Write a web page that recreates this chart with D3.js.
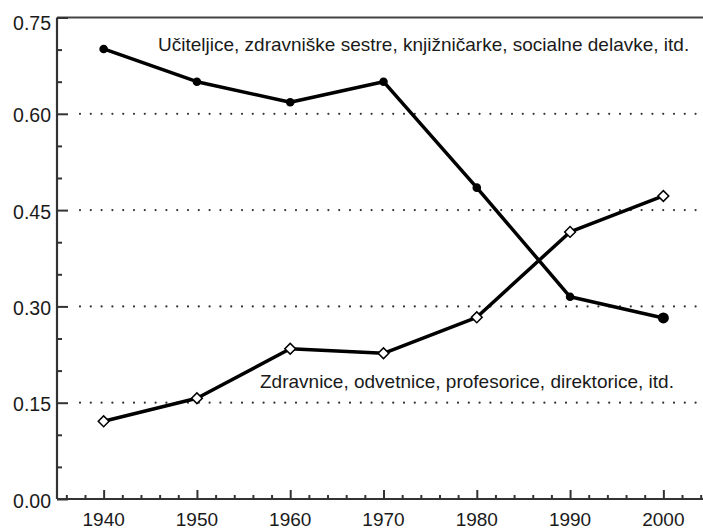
<!DOCTYPE html>
<html>
<head>
<meta charset="utf-8">
<script src="https://cdn.jsdelivr.net/npm/d3@7"></script>
<style>
    body { margin: 0; background: #fff; }
    svg { display: block; font-family: "Liberation Sans", Arial, sans-serif; }
</style>
</head>
<body>
<div id="chart"></div>
<script>
const YEARS = [1940, 1950, 1960, 1970, 1980, 1990, 2000];
const TRADITIONAL = [0.701, 0.650, 0.618, 0.650, 0.485, 0.315, 0.282];
const PROFESSIONAL = [0.121, 0.157, 0.234, 0.227, 0.283, 0.416, 0.472];
const Y_TICKS = [0, 0.15, 0.30, 0.45, 0.60, 0.75];
const GRID_VALUES = [0.15, 0.30, 0.45, 0.60];
const LABEL_TRADITIONAL = "Učiteljice, zdravniške sestre, knjižničarke, socialne delavke, itd.";
const LABEL_PROFESSIONAL = "Zdravnice, odvetnice, profesorice, direktorice, itd.";

const width = 703, height = 531;
const ink = "#1a1a1a";

const svg = d3.select("#chart").append("svg")
    .attr("width", width)
    .attr("height", height);

const x = d3.scaleLinear().domain([1935, 2005]).range([57, 710]);
const y = d3.scaleLinear().domain([0, 0.75]).range([499, 17.5]);

// dotted gridlines
svg.append("g").selectAll("line")
    .data(GRID_VALUES)
    .join("line")
    .attr("x1", 80).attr("x2", width)
    .attr("y1", d => y(d)).attr("y2", d => y(d))
    .attr("stroke", "#333")
    .attr("stroke-width", 2.2)
    .attr("stroke-linecap", "round")
    .attr("stroke-dasharray", "0 10.8");

// frame top line
svg.append("line")
    .attr("x1", x.range()[0]).attr("x2", width)
    .attr("y1", y(0.75)).attr("y2", y(0.75))
    .attr("stroke", "#444").attr("stroke-width", 2);

// y axis: major ticks inside, minor every 0.05
const yMinor = d3.range(0, 0.7501, 0.05).filter(v => Math.abs(v / 0.15 - Math.round(v / 0.15)) > 1e-6);
const yAxis = svg.append("g").attr("transform", `translate(${x.range()[0]},0)`);
yAxis.call(d3.axisRight(y).tickValues(Y_TICKS).tickSize(11).tickFormat(""));
yAxis.append("g").call(d3.axisRight(y).tickValues(yMinor).tickSize(5).tickFormat(""));
yAxis.selectAll(".domain").filter((d, i) => i > 0).remove();
yAxis.selectAll("line").attr("stroke", "#333").attr("stroke-width", 2);
yAxis.select(".domain").attr("stroke", "#333").attr("stroke-width", 2.2).attr("d", `M0,${y(0)}V${y(0.75)}`);

svg.append("g").selectAll("text")
    .data(Y_TICKS)
    .join("text")
    .attr("x", 51)
    .attr("y", d => y(d) + (d === 0.75 ? 12 : 8.5))
    .attr("text-anchor", "end")
    .attr("font-size", 19.5)
    .attr("fill", ink)
    .text(d => d3.format(".2f")(d));

// x axis: major ticks every decade pointing up, minor every 2 years
const xMinor = d3.range(1936, 2005, 2).filter(v => v % 10 !== 0);
const xAxis = svg.append("g").attr("transform", `translate(0,${y(0)})`);
xAxis.call(d3.axisTop(x).tickValues(YEARS).tickSize(9).tickFormat(""));
xAxis.append("g").call(d3.axisTop(x).tickValues(xMinor).tickSize(4).tickFormat(""));
xAxis.selectAll(".domain").filter((d, i) => i > 0).remove();
xAxis.selectAll("line").attr("stroke", "#333").attr("stroke-width", 2);
xAxis.select(".domain").attr("stroke", "#333").attr("stroke-width", 2.2).attr("d", `M${x.range()[0]},0H${width}`);

svg.append("g").selectAll("text")
    .data(YEARS)
    .join("text")
    .attr("x", d => x(d))
    .attr("y", 526)
    .attr("text-anchor", "middle")
    .attr("font-size", 19)
    .attr("fill", ink)
    .text(d => d);

// series lines
const line = d3.line().x((d, i) => x(YEARS[i])).y(d => y(d));
[TRADITIONAL, PROFESSIONAL].forEach(values => {
    svg.append("path")
        .datum(values)
        .attr("fill", "none")
        .attr("stroke", "#000")
        .attr("stroke-width", 3.5)
        .attr("stroke-linejoin", "round")
        .attr("d", line);
});

// markers
svg.append("g").selectAll("circle")
    .data(TRADITIONAL)
    .join("circle")
    .attr("cx", (d, i) => x(YEARS[i]))
    .attr("cy", d => y(d))
    .attr("r", (d, i) => i === YEARS.length - 1 ? 5.5 : 4.3)
    .attr("fill", "#000");

const diamond = d3.symbol(d3.symbolSquare, 58);
svg.append("g").selectAll("path")
    .data(PROFESSIONAL)
    .join("path")
    .attr("d", diamond)
    .attr("transform", (d, i) => `translate(${x(YEARS[i])},${y(d)}) rotate(45)`)
    .attr("fill", "#fff")
    .attr("stroke", "#000")
    .attr("stroke-width", 1.5);

// annotations
svg.append("text")
    .attr("x", 158).attr("y", 51)
    .attr("font-size", 19)
    .attr("fill", ink)
    .text(LABEL_TRADITIONAL);

svg.append("text")
    .attr("x", 260).attr("y", 388)
    .attr("font-size", 19)
    .attr("fill", ink)
    .text(LABEL_PROFESSIONAL);
</script>
</body>
</html>
